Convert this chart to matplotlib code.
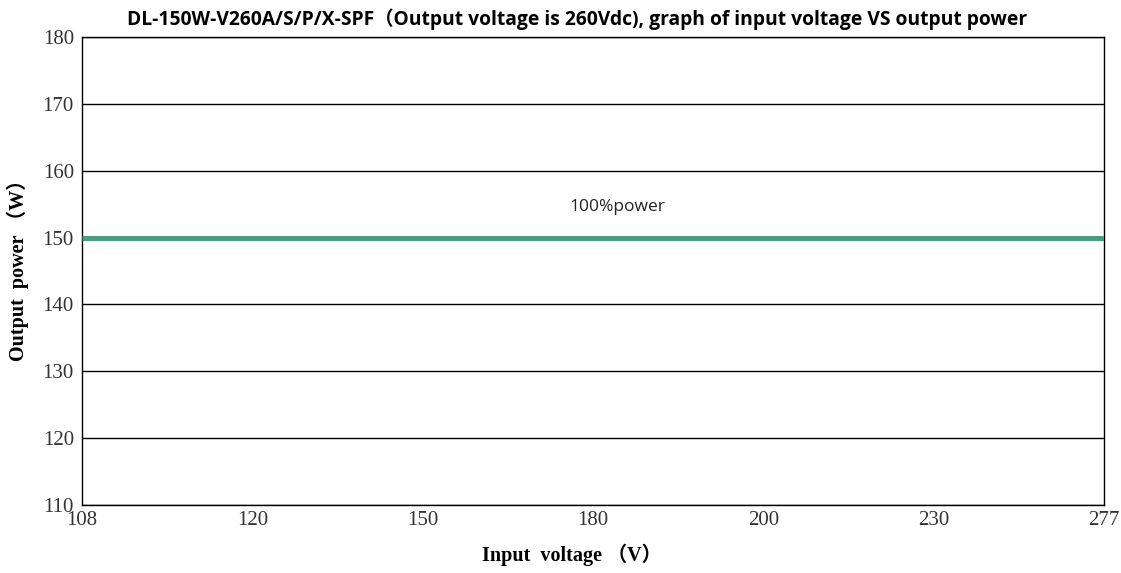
import matplotlib
matplotlib.use("Agg")
import matplotlib.pyplot as plt
import numpy as np

# input voltage categories (evenly spaced on the chart) and output power
voltages = ['108', '120', '150', '180', '200', '230', '277']
power = [150, 150, 150, 150, 150, 150, 150]
y_ticks = [110, 120, 130, 140, 150, 160, 170, 180]

fig = plt.figure(figsize=(11.21, 5.73), dpi=100)
ax = fig.add_axes([0.0733, 0.1187, 0.9117, 0.8167])

x = np.arange(len(voltages))
ax.plot(x, power, color='#4a9b82', linewidth=3.6, solid_capstyle='butt', zorder=3)

ax.set_xlim(0, len(voltages) - 1)
ax.set_ylim(110, 180)
ax.set_yticks(y_ticks)
ax.set_xticks(x)
ax.set_xticklabels(voltages)
ax.grid(axis='y', color='black', linewidth=1.0)
ax.set_axisbelow(True)

for s in ax.spines.values():
   s.set_color('black')
   s.set_linewidth(1.0)

ax.tick_params(length=0, labelsize=15, colors='#333333')
ax.tick_params(axis='y', pad=6)
ax.tick_params(axis='x', pad=4)
for lab in ax.get_xticklabels() + ax.get_yticklabels():
   lab.set_family('Liberation Serif')

ax.text(3.14, 154.6, '100%power', ha='center', va='center', fontsize=12.5,
        family='Open Sans', color='#222222')

fig.text(0.515, 0.966, 'DL-150W-V260A/S/P/X-SPF\uff08Output voltage is 260Vdc), graph of input voltage VS output power',
         ha='center', va='center', fontsize=13.9, fontweight='bold',
         family=['Open Sans', 'Noto Sans CJK SC'])
fig.text(0.510, 0.031, 'Input  voltage \uff08V\uff09', ha='center', va='center',
         fontsize=14.5, fontweight='bold', family=['Liberation Serif', 'Noto Sans CJK SC'])
fig.text(0.016, 0.537, 'Output  power \uff08W\uff09', ha='center', va='center', rotation=90,
         fontsize=14.5, fontweight='bold', family=['Liberation Serif', 'Noto Sans CJK SC'])

fig.savefig('out.png', dpi=100, facecolor='white')
